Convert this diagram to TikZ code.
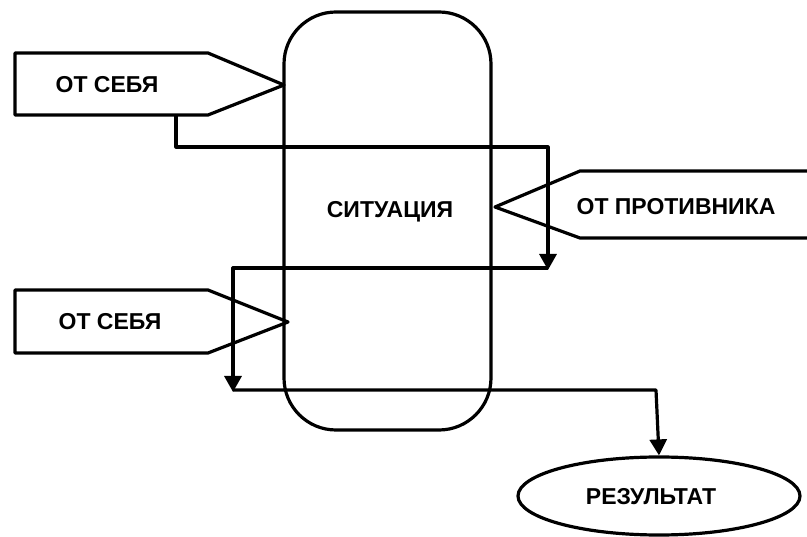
\documentclass[tikz,border=0pt]{standalone}
\usepackage{fontspec}
\setmainfont{Liberation Sans}
\usetikzlibrary{arrows.meta,shapes.geometric}
\begin{document}
\begin{tikzpicture}[x=1pt,y=-1pt,
  line/.style={line width=3.2pt,line join=round},
  arr/.style={line,-{Triangle[length=16pt,width=17pt]}},
  lbl/.style={font=\fontsize{23}{26}\selectfont\bfseries,inner sep=0pt}]
\useasboundingbox (0,0) rectangle (807,537);
% situation box
\draw[line,rounded corners=52pt] (284,12) rectangle (491,430);
\node[lbl] (sit) at (390,212) {СИТУАЦИЯ};
% top left pentagon
\coordinate (p1) at (284,85);
\draw[line] (15,53) -- (208,53) -- (p1) -- (208,115) -- (15,115) -- cycle;
\node[lbl] (self1) at (107,85) {ОТ СЕБЯ};
% bottom left pentagon
\coordinate (p2) at (288,322);
\draw[line] (15,290) -- (208,290) -- (p2) -- (208,353) -- (15,353) -- cycle;
\node[lbl] (self2) at (110,322) {ОТ СЕБЯ};
% right pentagon
\coordinate (p3) at (495,207);
\draw[line] (807,171) -- (580,171) -- (p3) -- (580,238) -- (807,238);
\node[lbl] (opp) at (676,207) {ОТ ПРОТИВНИКА};
% result
\node[ellipse,draw,line width=3.2pt,minimum width=282pt,minimum height=78pt,inner sep=0pt] (res) at (659,496) {};
\node[lbl] (restxt) at (651,497) {РЕЗУЛЬТАТ};
% connectors
\coordinate (a0) at (176,115);
\coordinate (a1) at (176,147);
\coordinate (a2) at (548,147);
\coordinate (a3) at (548,270);
\coordinate (b0) at (548,268);
\coordinate (b1) at (233,268);
\coordinate (b2) at (233,392);
\coordinate (c0) at (233,390);
\coordinate (c1) at (656,390);
\draw[arr] (a0) -- (a1) -- (a2) -- (a3);
\draw[arr] (b0) -- (b1) -- (b2);
\draw[arr] (c0) -- (c1) -- (res.north);
\end{tikzpicture}
\end{document}
